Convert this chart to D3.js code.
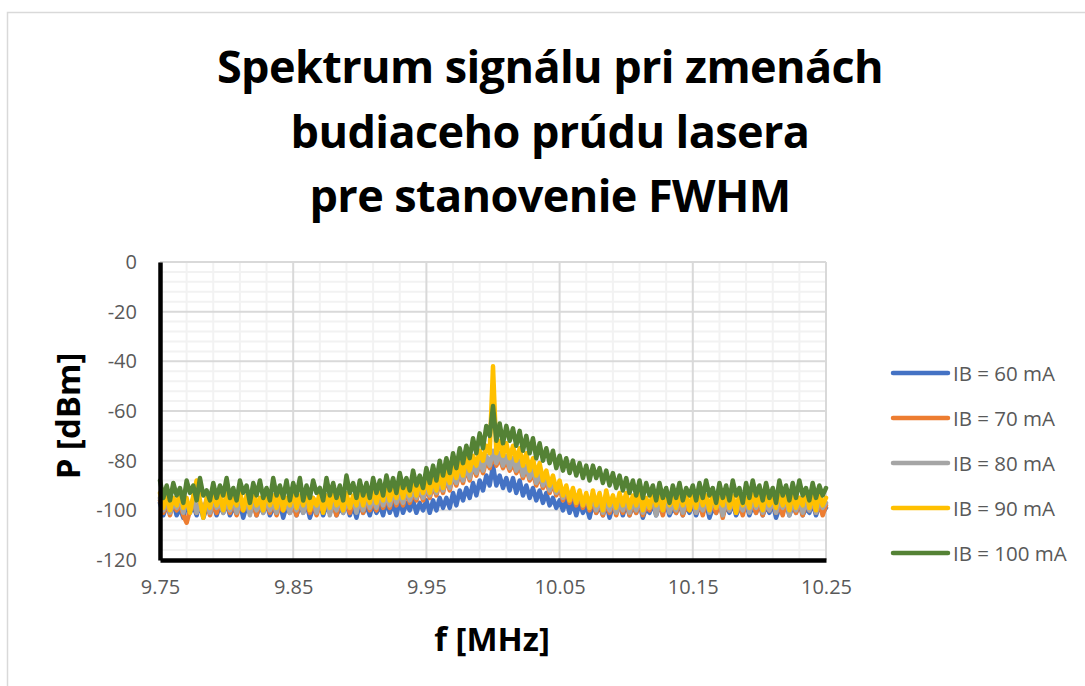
<!DOCTYPE html>
<html>
<head>
<meta charset="utf-8">
<script src="https://cdn.jsdelivr.net/npm/d3@7"></script>
<style>
  body { margin: 0; background: #fff; }
  svg { display: block; font-family: "Open Sans", Lato, sans-serif; }
</style>
</head>
<body>
<svg id="chart" width="1085" height="686"></svg>
<script>
// ---- data ----
var fStart = 9.75, fStep = 0.0025;   // 201 samples, 9.75 .. 10.25 MHz

var seriesNames = ["IB = 60 mA", "IB = 70 mA", "IB = 80 mA", "IB = 90 mA", "IB = 100 mA"];
var seriesColors = ["#4472C4", "#ED7D31", "#A5A5A5", "#FFC000", "#548235"];

var ib60 = [
  -97,-102,-98,-101,-97,-102,-99,-103,-97,-101,-98,-102,-97,-103,-99,-101,-97,-102,-98,-101,
  -97,-102,-99,-101,-97,-103,-98,-101,-97,-102,-98,-101,-97,-102,-99,-101,-97,-103,-98,-101,
  -97,-102,-98,-101,-97,-103,-99,-101,-97,-102,-98,-101,-97,-102,-99,-101,-97,-102,-98,-103,
  -97,-101,-98,-102,-97,-101,-98,-102,-96,-101,-97,-102,-96,-101,-97,-100,-96,-101,-97,-100,
  -96,-101,-96,-100,-95,-99,-95,-99,-93,-98,-92,-96,-91,-95,-89,-94,-88,-92,-86,-90,
  -82,-90,-86,-91,-87,-92,-87,-93,-88,-94,-90,-95,-91,-96,-92,-97,-93,-98,-95,-99,
  -96,-100,-96,-101,-97,-102,-97,-101,-98,-103,-97,-101,-98,-102,-97,-103,-98,-101,-97,-102,
  -97,-102,-98,-101,-97,-103,-99,-101,-97,-102,-98,-101,-97,-102,-99,-101,-97,-102,-98,-101,
  -97,-102,-98,-101,-97,-103,-99,-101,-97,-102,-98,-101,-97,-102,-99,-101,-97,-102,-98,-101,
  -97,-102,-98,-101,-97,-103,-99,-101,-97,-102,-98,-101,-97,-102,-99,-101,-97,-102,-98,-101,-99
];
var ib70 = [
  -96,-101,-97,-102,-96,-100,-97,-102,-105,-100,-96,-101,-97,-100,-96,-102,-97,-101,-96,-100,
  -97,-101,-96,-102,-98,-100,-96,-101,-97,-102,-96,-100,-97,-101,-96,-102,-98,-100,-96,-101,
  -97,-102,-96,-100,-97,-101,-96,-102,-98,-100,-96,-101,-97,-102,-96,-100,-97,-101,-96,-100,
  -96,-101,-95,-100,-96,-100,-94,-99,-95,-99,-93,-98,-94,-98,-92,-97,-93,-96,-91,-96,
  -91,-95,-90,-94,-89,-93,-87,-92,-86,-90,-85,-89,-83,-88,-82,-86,-81,-85,-80,-83,
  -78,-82,-79,-83,-80,-84,-81,-85,-82,-87,-83,-88,-85,-90,-86,-91,-88,-93,-89,-94,
  -91,-96,-92,-97,-93,-98,-94,-99,-95,-100,-96,-101,-96,-102,-97,-101,-96,-102,-97,-101,
  -96,-102,-97,-101,-96,-102,-98,-100,-96,-101,-97,-102,-96,-100,-97,-101,-96,-102,-98,-100,
  -96,-101,-97,-102,-96,-100,-97,-101,-96,-103,-97,-100,-96,-101,-97,-102,-96,-100,-97,-101,
  -96,-102,-97,-100,-96,-101,-98,-102,-96,-100,-97,-101,-96,-102,-97,-100,-96,-101,-97,-102,-98
];
var ib80 = [
  -95,-100,-96,-101,-97,-99,-95,-101,-96,-100,-95,-101,-97,-100,-96,-101,-95,-99,-97,-101,
  -96,-100,-95,-101,-97,-99,-96,-102,-95,-100,-97,-101,-95,-100,-96,-101,-95,-99,-97,-101,
  -95,-100,-96,-101,-97,-99,-95,-101,-96,-100,-94,-102,-96,-100,-95,-101,-97,-99,-95,-101,
  -95,-100,-94,-99,-95,-99,-93,-98,-94,-98,-92,-97,-93,-97,-91,-96,-92,-95,-90,-95,
  -90,-94,-89,-93,-88,-92,-86,-91,-85,-89,-84,-88,-82,-87,-81,-85,-80,-84,-78,-82,
  -76,-81,-77,-82,-78,-83,-79,-84,-80,-86,-82,-87,-83,-89,-85,-90,-86,-92,-88,-93,
  -89,-95,-91,-96,-92,-97,-93,-98,-94,-99,-95,-100,-95,-101,-96,-100,-95,-101,-97,-100,
  -95,-101,-96,-100,-95,-101,-97,-99,-95,-102,-96,-100,-95,-101,-97,-100,-95,-101,-96,-99,
  -95,-101,-97,-100,-95,-101,-96,-99,-95,-102,-96,-100,-95,-101,-97,-100,-95,-101,-96,-99,
  -95,-101,-97,-100,-95,-101,-96,-99,-95,-102,-96,-100,-95,-101,-97,-100,-95,-101,-96,-99,-97
];
var ib90 = [
  -93,-99,-94,-100,-95,-98,-93,-99,-95,-101,-94,-88,-96,-103,-95,-99,-93,-98,-94,-100,
  -93,-99,-95,-98,-92,-100,-94,-99,-93,-98,-95,-100,-92,-98,-94,-99,-93,-100,-95,-98,
  -93,-99,-94,-98,-92,-100,-95,-98,-93,-101,-94,-99,-92,-98,-95,-100,-93,-99,-94,-98,
  -92,-98,-93,-97,-91,-97,-92,-96,-90,-96,-91,-95,-89,-95,-90,-94,-88,-94,-89,-93,
  -88,-93,-87,-92,-85,-91,-84,-89,-82,-87,-81,-86,-79,-84,-78,-82,-76,-80,-74,-77,
  -42,-77,-72,-78,-73,-79,-74,-80,-75,-82,-77,-84,-79,-86,-81,-88,-84,-90,-86,-92,
  -88,-94,-90,-96,-91,-97,-92,-98,-93,-99,-92,-98,-93,-100,-92,-98,-94,-99,-93,-98,
  -93,-99,-94,-98,-92,-100,-95,-99,-93,-98,-94,-100,-92,-98,-95,-99,-93,-98,-94,-100,
  -93,-99,-92,-98,-94,-100,-93,-99,-95,-98,-92,-99,-94,-101,-93,-98,-95,-99,-92,-98,
  -94,-100,-93,-98,-95,-99,-92,-98,-94,-100,-93,-99,-95,-98,-92,-99,-94,-100,-93,-98,-95
];
var ib100 = [
  -88,-95,-90,-96,-89,-94,-91,-97,-88,-93,-90,-96,-87,-94,-92,-96,-89,-95,-90,-94,
  -87,-95,-91,-96,-88,-93,-90,-97,-89,-94,-88,-95,-91,-96,-87,-94,-90,-95,-88,-96,
  -89,-94,-87,-96,-90,-95,-88,-93,-91,-96,-87,-94,-89,-95,-90,-96,-86,-93,-89,-95,
  -88,-94,-89,-95,-87,-93,-88,-94,-86,-92,-87,-93,-85,-91,-87,-92,-84,-90,-86,-91,
  -83,-89,-82,-88,-80,-86,-79,-85,-77,-83,-75,-81,-74,-79,-71,-77,-69,-75,-66,-70,
  -58,-72,-65,-73,-66,-72,-67,-74,-68,-76,-70,-77,-71,-79,-73,-80,-75,-81,-76,-83,
  -78,-84,-79,-85,-80,-86,-81,-87,-82,-88,-82,-87,-83,-89,-84,-90,-85,-91,-86,-92,
  -87,-93,-88,-94,-88,-95,-89,-94,-90,-96,-89,-95,-91,-97,-90,-95,-89,-96,-91,-94,
  -90,-96,-89,-95,-88,-94,-91,-97,-89,-95,-90,-96,-88,-94,-91,-97,-89,-95,-88,-94,
  -90,-96,-89,-95,-91,-97,-88,-94,-90,-96,-89,-95,-88,-94,-91,-96,-89,-95,-90,-94,-91
];
var seriesValues = [ib60, ib70, ib80, ib90, ib100];

var xTicks = [9.75, 9.85, 9.95, 10.05, 10.15, 10.25];
var yTicks = [0, -20, -40, -60, -80, -100, -120];

var titleLines = ["Spektrum signálu pri zmenách", "budiaceho prúdu lasera", "pre stanovenie FWHM"];

// ---- layout ----
var svg = d3.select("#chart");
var plotLeft = 160, plotRight = 826, plotTop = 262, plotBottom = 560;

var x = d3.scaleLinear().domain([9.75, 10.25]).range([plotLeft, plotRight]);
var y = d3.scaleLinear().domain([-120, 0]).range([plotBottom, plotTop]);

// outer chart frame (runs off the picture on the right/bottom)
svg.append("rect")
  .attr("x", 7.5).attr("y", 12.5).attr("width", 1100).attr("height", 700)
  .attr("fill", "#fff").attr("stroke", "#d9d9d9").attr("stroke-width", 1.5);

// title
svg.append("g").selectAll("text")
  .data(titleLines)
  .join("text")
  .attr("x", 550).attr("y", function(d, i){ return 83 + i * 64.5; })
  .attr("text-anchor", "middle")
  .attr("font-size", 45).attr("font-weight", "bold").attr("fill", "#000")
  .attr("letter-spacing", -0.6)
  .text(function(d){ return d; });

// gridlines
var grid = svg.append("g");
var minorY = d3.range(-120, 1, 4).filter(function(v){ return v % 20 !== 0; });
var minorX = d3.range(0, 26).map(function(i){ return 9.75 + i * 0.02; })
  .filter(function(v, i){ return i % 5 !== 0; });
var majorX = d3.range(0, 6).map(function(i){ return 9.75 + i * 0.1; });

grid.selectAll(".minY").data(minorY).join("line")
  .attr("x1", plotLeft).attr("x2", plotRight)
  .attr("y1", function(d){ return y(d); }).attr("y2", function(d){ return y(d); })
  .attr("stroke", "#f2f2f2").attr("stroke-width", 2);
grid.selectAll(".minX").data(minorX).join("line")
  .attr("x1", function(d){ return x(d); }).attr("x2", function(d){ return x(d); })
  .attr("y1", plotTop).attr("y2", plotBottom)
  .attr("stroke", "#f2f2f2").attr("stroke-width", 2);
grid.selectAll(".majY").data(yTicks).join("line")
  .attr("x1", plotLeft).attr("x2", plotRight)
  .attr("y1", function(d){ return y(d); }).attr("y2", function(d){ return y(d); })
  .attr("stroke", "#d9d9d9").attr("stroke-width", 2);
grid.selectAll(".majX").data(majorX).join("line")
  .attr("x1", function(d){ return x(d); }).attr("x2", function(d){ return x(d); })
  .attr("y1", plotTop).attr("y2", plotBottom)
  .attr("stroke", "#d9d9d9").attr("stroke-width", 2);

// series
var line = d3.line()
  .x(function(d, i){ return x(fStart + i * fStep); })
  .y(function(d){ return y(d); });

svg.append("g").selectAll("path")
  .data(seriesValues)
  .join("path")
  .attr("d", line)
  .attr("fill", "none")
  .attr("stroke", function(d, i){ return seriesColors[i]; })
  .attr("stroke-width", 4.5)
  .attr("stroke-linejoin", "round")
  .attr("stroke-linecap", "round");

// axes
var yAxis = svg.append("g").attr("transform", "translate(" + plotLeft + ",0)")
  .call(d3.axisLeft(y).tickValues(yTicks).tickSize(0).tickPadding(23).tickFormat(d3.format("d")));
var xAxis = svg.append("g").attr("transform", "translate(0," + plotBottom + ")")
  .call(d3.axisBottom(x).tickValues(xTicks).tickSize(0).tickPadding(20).tickFormat(d3.format(".2f")));

[yAxis, xAxis].forEach(function(a){
  a.select(".domain").attr("stroke", "#000").attr("stroke-width", 4.5);
  a.selectAll("text").attr("font-family", "'Open Sans', Lato, sans-serif")
    .attr("font-size", 20).attr("fill", "#595959");
});
yAxis.selectAll("text").text(function(d){ return String(d); });

// axis titles
svg.append("text")
  .attr("x", 492).attr("y", 651)
  .attr("text-anchor", "middle").attr("font-size", 33).attr("font-weight", "bold")
  .text("f [MHz]");
svg.append("text")
  .attr("transform", "translate(80,416) rotate(-90)")
  .attr("text-anchor", "middle").attr("font-size", 33).attr("font-weight", "bold")
  .text("P [dBm]");

// legend
var legend = svg.append("g").selectAll("g")
  .data(seriesNames)
  .join("g")
  .attr("transform", function(d, i){ return "translate(893," + (373 + i * 45) + ")"; });
legend.append("line")
  .attr("x1", 0).attr("x2", 55)
  .attr("stroke", function(d, i){ return seriesColors[i]; })
  .attr("stroke-width", 4.5).attr("stroke-linecap", "round");
legend.append("text")
  .attr("x", 60).attr("y", 7.5)
  .attr("font-size", 20.5).attr("fill", "#595959")
  .text(function(d){ return d; });
</script>
</body>
</html>
